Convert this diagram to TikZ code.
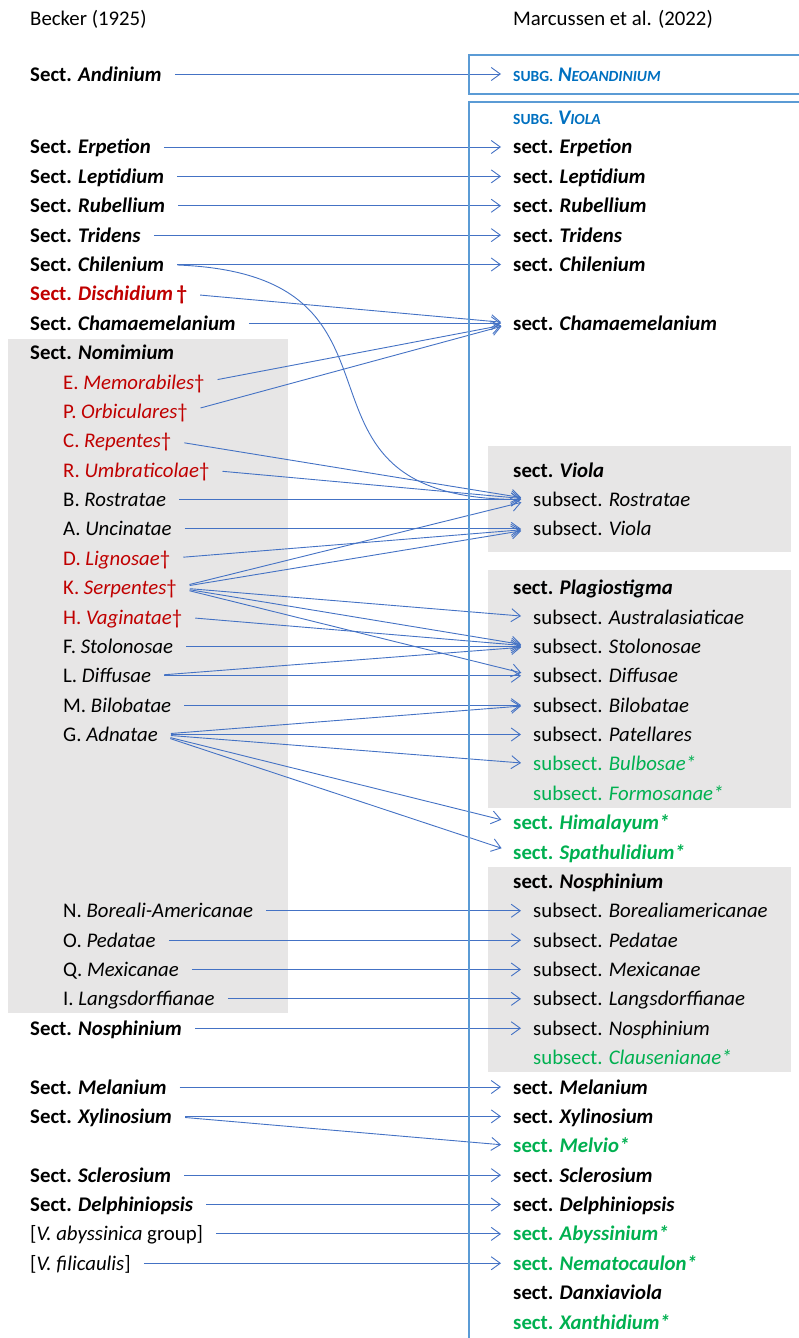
\documentclass[tikz,border=0pt]{standalone}
\usepackage{fontspec}
\setmainfont{Carlito}
\usepackage{xcolor}
\usetikzlibrary{arrows.meta,positioning,calc}

\definecolor{linkblue}{HTML}{4472C4}
\definecolor{boxblue}{HTML}{5B9BD5}
\definecolor{subgblue}{HTML}{0070C0}
\definecolor{extinct}{HTML}{C00000}
\definecolor{newgreen}{HTML}{00B050}
\definecolor{boxgray}{HTML}{E7E6E6}

\newcommand{\Bsect}[1]{\textbf{Sect. \textit{#1}}}
\newcommand{\Msect}[1]{\textbf{sect. \textit{#1}}}
\newcommand{\Msub}[1]{subsect. \textit{#1}}
\newcommand{\Subg}[2]{\textbf{{\fontsize{15.5}{15.5}\selectfont SUBG.} \textit{#1{\fontsize{15.5}{15.5}\selectfont #2}}}}

\begin{document}
\begin{tikzpicture}[x=1pt, y=-29.375pt,
    every node/.style={font=\fontsize{20.8}{25}\selectfont, inner sep=0pt, anchor=west, text height=14pt, text depth=0pt},
    link/.style={draw=linkblue, line width=0.9pt, -{Straight Barb[length=9pt,width=13pt]}, shorten <=13pt, shorten >=12pt},
    gray/.style={fill=boxgray},
    frame/.style={draw=boxblue, line width=2.8pt}]
    \useasboundingbox (0,-5.0043) rectangle (799,40.5447);

    \fill[gray] (8,6.54) rectangle (288,29.48);
    \fill[gray] (488,10.18) rectangle (791,13.79);
    \fill[gray] (488,14.40) rectangle (791,22.50);
    \fill[gray] (488,24.51) rectangle (791,31.49);

    \node (becker) at (30,-4.39) {Becker (1925)};
    \node (marcussen) at (513,-4.39) {Marcussen et al. (2022)};

    \node (b-and) at (30,-2.485) {\Bsect{Andinium}};
    \node (b-erp) at (30,0) {\Bsect{Erpetion}};
    \node (b-lep) at (30,1) {\Bsect{Leptidium}};
    \node (b-rub) at (30,2) {\Bsect{Rubellium}};
    \node (b-tri) at (30,3) {\Bsect{Tridens}};
    \node (b-chi) at (30,4) {\Bsect{Chilenium}};
    \node (b-dis) [text=extinct] at (30,5) {\Bsect{Dischidium}\,\textbf{†}};
    \node (b-cha) at (30,6) {\Bsect{Chamaemelanium}};
    \node (b-nom) at (30,7) {\Bsect{Nomimium}};
    \node (b-mem) [text=extinct] at (63,8) {E. \textit{Memorabiles}†};
    \node (b-orb) [text=extinct] at (63,9) {P. \textit{Orbiculares}†};
    \node (b-rep) [text=extinct] at (63,10) {C. \textit{Repentes}†};
    \node (b-umb) [text=extinct] at (63,11) {R. \textit{Umbraticolae}†};
    \node (b-ros) at (63,12) {B. \textit{Rostratae}};
    \node (b-unc) at (63,13) {A. \textit{Uncinatae}};
    \node (b-lig) [text=extinct] at (63,14) {D. \textit{Lignosae}†};
    \node (b-ser) [text=extinct] at (63,15) {K. \textit{Serpentes}†};
    \node (b-vag) [text=extinct] at (63,16) {H. \textit{Vaginatae}†};
    \node (b-sto) at (63,17) {F. \textit{Stolonosae}};
    \node (b-dif) at (63,18) {L. \textit{Diffusae}};
    \node (b-bil) at (63,19) {M. \textit{Bilobatae}};
    \node (b-adn) at (63,20) {G. \textit{Adnatae}};
    \node (b-bor) at (63,26) {N. \textit{Boreali-Americanae}};
    \node (b-ped) at (63,27) {O. \textit{Pedatae}};
    \node (b-mex) at (63,28) {Q. \textit{Mexicanae}};
    \node (b-lan) at (63,29) {I. \textit{Langsdorffianae}};
    \node (b-nos) at (30,30) {\Bsect{Nosphinium}};
    \node (b-mel) at (30,32) {\Bsect{Melanium}};
    \node (b-xyl) at (30,33) {\Bsect{Xylinosium}};
    \node (b-scl) at (30,35) {\Bsect{Sclerosium}};
    \node (b-del) at (30,36) {\Bsect{Delphiniopsis}};
    \node (b-aby) at (30,37) {[\textit{V. abyssinica} group]};
    \node (b-fil) at (30,38) {[\textit{V. filicaulis}]};

    \node (m-neo) [text=subgblue] at (513,-2.485) {\Subg{N}{EOANDINIUM}};
    \node (m-vio) [text=subgblue] at (513,-1) {\Subg{V}{IOLA}};
    \node (m-erp) at (513,0) {\Msect{Erpetion}};
    \node (m-lep) at (513,1) {\Msect{Leptidium}};
    \node (m-rub) at (513,2) {\Msect{Rubellium}};
    \node (m-tri) at (513,3) {\Msect{Tridens}};
    \node (m-chi) at (513,4) {\Msect{Chilenium}};
    \node (m-cha) at (513,6) {\Msect{Chamaemelanium}};
    \node (m-viola) at (513,11) {\Msect{Viola}};
    \node (m-ros) at (533,12) {\Msub{Rostratae}};
    \node (m-vsub) at (533,13) {\Msub{Viola}};
    \node (m-pla) at (513,15) {\Msect{Plagiostigma}};
    \node (m-aus) at (533,16) {\Msub{Australasiaticae}};
    \node (m-sto) at (533,17) {\Msub{Stolonosae}};
    \node (m-dif) at (533,18) {\Msub{Diffusae}};
    \node (m-bil) at (533,19) {\Msub{Bilobatae}};
    \node (m-pat) at (533,20) {\Msub{Patellares}};
    \node (m-bul) [text=newgreen] at (533,21) {\Msub{Bulbosae*}};
    \node (m-for) [text=newgreen] at (533,22) {\Msub{Formosanae*}};
    \node (m-him) [text=newgreen] at (513,23) {\Msect{Himalayum*}};
    \node (m-spa) [text=newgreen] at (513,24) {\Msect{Spathulidium*}};
    \node (m-nsec) at (513,25) {\Msect{Nosphinium}};
    \node (m-bor) at (533,26) {\Msub{Borealiamericanae}};
    \node (m-ped) at (533,27) {\Msub{Pedatae}};
    \node (m-mex) at (533,28) {\Msub{Mexicanae}};
    \node (m-lan) at (533,29) {\Msub{Langsdorffianae}};
    \node (m-nsub) at (533,30) {\Msub{Nosphinium}};
    \node (m-cla) [text=newgreen] at (533,31) {\Msub{Clausenianae*}};
    \node (m-mel) at (513,32) {\Msect{Melanium}};
    \node (m-xyl) at (513,33) {\Msect{Xylinosium}};
    \node (m-mlv) [text=newgreen] at (513,34) {\Msect{Melvio*}};
    \node (m-scl) at (513,35) {\Msect{Sclerosium}};
    \node (m-del) at (513,36) {\Msect{Delphiniopsis}};
    \node (m-aby) [text=newgreen] at (513,37) {\Msect{Abyssinium*}};
    \node (m-nem) [text=newgreen] at (513,38) {\Msect{Nematocaulon*}};
    \node (m-dan) at (513,39) {\Msect{Danxiaviola}};
    \node (m-xan) [text=newgreen] at (513,40) {\Msect{Xanthidium*}};

    \draw [link] (b-and.east) -- (m-neo.west);
    \draw [link] (b-erp.east) -- (m-erp.west);
    \draw [link] (b-lep.east) -- (m-lep.west);
    \draw [link] (b-rub.east) -- (m-rub.west);
    \draw [link] (b-tri.east) -- (m-tri.west);
    \draw [link] (b-chi.east) -- (m-chi.west);
    \draw [link] (b-chi.east) .. controls (440,4.36) and (260,12) .. (m-ros.west);
    \draw [link] (b-dis.east) -- (m-cha.west);
    \draw [link] (b-cha.east) -- (m-cha.west);
    \draw [link] (b-mem.east) -- (m-cha.west);
    \draw [link] (b-orb.east) -- (m-cha.west);
    \draw [link] (b-rep.east) -- (m-ros.west);
    \draw [link] (b-umb.east) -- (m-ros.west);
    \draw [link] (b-ros.east) -- (m-ros.west);
    \draw [link] (b-unc.east) -- (m-vsub.west);
    \draw [link] (b-lig.east) -- (m-vsub.west);
    \draw [link] (b-ser.east) -- (m-ros.west);
    \draw [link] (b-ser.east) -- (m-vsub.west);
    \draw [link] (b-ser.east) -- (m-aus.west);
    \draw [link] (b-ser.east) -- (m-sto.west);
    \draw [link] (b-ser.east) -- (m-dif.west);
    \draw [link] (b-vag.east) -- (m-sto.west);
    \draw [link] (b-sto.east) -- (m-sto.west);
    \draw [link] (b-dif.east) -- (m-sto.west);
    \draw [link] (b-dif.east) -- (m-dif.west);
    \draw [link] (b-bil.east) -- (m-bil.west);
    \draw [link] (b-adn.east) -- (m-bil.west);
    \draw [link] (b-adn.east) -- (m-pat.west);
    \draw [link] (b-adn.east) -- (m-bul.west);
    \draw [link] (b-adn.east) -- (m-him.west);
    \draw [link] (b-adn.east) -- (m-spa.west);
    \draw [link] (b-bor.east) -- (m-bor.west);
    \draw [link] (b-ped.east) -- (m-ped.west);
    \draw [link] (b-mex.east) -- (m-mex.west);
    \draw [link] (b-lan.east) -- (m-lan.west);
    \draw [link] (b-nos.east) -- (m-nsub.west);
    \draw [link] (b-mel.east) -- (m-mel.west);
    \draw [link] (b-xyl.east) -- (m-xyl.west);
    \draw [link] (b-xyl.east) -- (m-mlv.west);
    \draw [link] (b-scl.east) -- (m-scl.west);
    \draw [link] (b-del.east) -- (m-del.west);
    \draw [link] (b-aby.east) -- (m-aby.west);
    \draw [link] (b-fil.east) -- (m-nem.west);

    \draw [frame] (469,-3.132) rectangle (830,-1.804);
    \draw [frame] (469,-1.532) rectangle (830,42);
\end{tikzpicture}
\end{document}
